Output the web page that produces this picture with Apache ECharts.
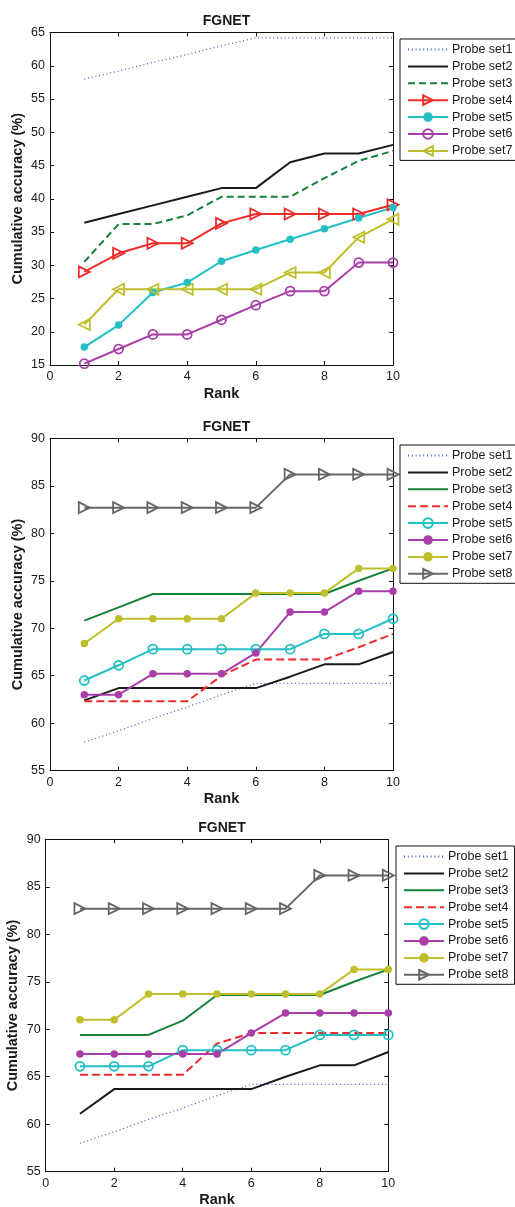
<!DOCTYPE html>
<html>
<head>
<meta charset="utf-8">
<script src="https://cdn.jsdelivr.net/npm/echarts@6/dist/echarts.min.js"></script>
<style>
html,body{margin:0;padding:0;background:#fff;}
#main{width:515px;height:1207px;}
</style>
</head>
<body>
<div id="main"></div>
<script>
// ---------- DATA ----------
const ranks = [1, 2, 3, 4, 5, 6, 7, 8, 9, 10];
const legendNames1 = ['Probe set1','Probe set2','Probe set3','Probe set4','Probe set5','Probe set6','Probe set7'];
const legendNames2 = ['Probe set1','Probe set2','Probe set3','Probe set4','Probe set5','Probe set6','Probe set7','Probe set8'];
const xTicks = [0, 2, 4, 6, 8, 10];

// Panel 1
const p1_set1 = [58.0, 59.2, 60.5, 61.7, 63.0, 64.2, 64.2, 64.2, 64.2, 64.2];
const p1_set2 = [36.4, 37.7, 39.0, 40.3, 41.6, 41.6, 45.5, 46.8, 46.8, 48.1];
const p1_set3 = [30.5, 36.2, 36.2, 37.5, 40.3, 40.3, 40.3, 43.1, 45.7, 47.2];
const p1_set4 = [29.0, 31.8, 33.3, 33.3, 36.3, 37.7, 37.7, 37.7, 37.7, 39.1];
const p1_set5 = [17.7, 21.0, 25.9, 27.4, 30.6, 32.3, 33.9, 35.5, 37.1, 38.7];
const p1_set6 = [15.2, 17.4, 19.6, 19.6, 21.8, 24.0, 26.1, 26.1, 30.4, 30.4];
const p1_set7 = [21.1, 26.4, 26.4, 26.4, 26.4, 26.4, 28.9, 28.9, 34.2, 36.9];

// Panel 2
const p2_set1 = [58.0, 59.2, 60.5, 61.7, 63.0, 64.2, 64.2, 64.2, 64.2, 64.2];
const p2_set2 = [62.4, 63.7, 63.7, 63.7, 63.7, 63.7, 64.9, 66.2, 66.2, 67.5];
const p2_set3 = [70.8, 72.2, 73.6, 73.6, 73.6, 73.6, 73.6, 73.6, 75.0, 76.3];
const p2_set4 = [62.3, 62.3, 62.3, 62.3, 65.0, 66.7, 66.7, 66.7, 68.0, 69.4];
const p2_set5 = [64.5, 66.1, 67.8, 67.8, 67.8, 67.8, 67.8, 69.4, 69.4, 71.0];
const p2_set6 = [63.0, 63.0, 65.2, 65.2, 65.2, 67.4, 71.7, 71.7, 73.9, 73.9];
const p2_set7 = [68.4, 71.0, 71.0, 71.0, 71.0, 73.7, 73.7, 73.7, 76.3, 76.3];
const p2_set8 = [82.7, 82.7, 82.7, 82.7, 82.7, 82.7, 86.2, 86.2, 86.2, 86.2];

// Panel 3
const p3_set1 = [58.0, 59.2, 60.5, 61.7, 63.0, 64.2, 64.2, 64.2, 64.2, 64.2];
const p3_set2 = [61.1, 63.7, 63.7, 63.7, 63.7, 63.7, 65.0, 66.2, 66.2, 67.6];
const p3_set3 = [69.4, 69.4, 69.4, 70.9, 73.6, 73.6, 73.6, 73.6, 75.0, 76.3];
const p3_set4 = [65.2, 65.2, 65.2, 65.2, 68.5, 69.6, 69.6, 69.6, 69.6, 69.6];
const p3_set5 = [66.1, 66.1, 66.1, 67.8, 67.8, 67.8, 67.8, 69.4, 69.4, 69.4];
const p3_set6 = [67.4, 67.4, 67.4, 67.4, 67.4, 69.6, 71.7, 71.7, 71.7, 71.7];
const p3_set7 = [71.0, 71.0, 73.7, 73.7, 73.7, 73.7, 73.7, 73.7, 76.3, 76.3];
const p3_set8 = [82.7, 82.7, 82.7, 82.7, 82.7, 82.7, 82.7, 86.2, 86.2, 86.2];

// ---------- STYLE ----------
const FONT = 'Liberation Sans, Arial, sans-serif';
const C = {
  blue: '#4d63c9', black: '#1a1a1a', green: '#17803a', red: '#ee2b2b',
  cyan: '#22bfc4', magenta: '#a83ea8', olive: '#bfbf2e', gray: '#666666'
};
const TRI_R = 'path://M0,0 L10,5 L0,10 Z';
const TRI_L = 'path://M10,0 L0,5 L10,10 Z';

function pairs(arr) { return ranks.map((r, i) => [r, arr[i]]); }

const panels = [
  { left: 50, top: 32.5, width: 343, height: 332.5, ymin: 15, ymax: 65, titleTop: 9,
    legend: { left: 400, top: 39, names: legendNames1 } },
  { left: 50, top: 438.3, width: 343, height: 332.4, ymin: 55, ymax: 90, titleTop: 415,
    legend: { left: 400, top: 445, names: legendNames2 } },
  { left: 45.7, top: 839.3, width: 342.6, height: 332.4, ymin: 55, ymax: 90, titleTop: 816,
    legend: { left: 396, top: 846, names: legendNames2 } }
];

function spec(data, color, lineType, marker, hollow, size, width) {
  return { data, color, lineType, marker, hollow, size, width };
}
const dotted = [1, 2.8];
const panelSeries = [
  [
    spec(p1_set1, C.blue, dotted, 'none', false, 0, 1.3),
    spec(p1_set2, C.black, 'solid', 'none', false, 0, 2),
    spec(p1_set3, C.green, [7, 4], 'none', false, 0, 2),
    spec(p1_set4, C.red, 'solid', TRI_R, true, 11, 2),
    spec(p1_set5, C.cyan, 'solid', 'circle', false, 7.5, 2),
    spec(p1_set6, C.magenta, 'solid', 'circle', true, 9, 2),
    spec(p1_set7, C.olive, 'solid', TRI_L, true, 11, 2)
  ],
  [
    spec(p2_set1, C.blue, dotted, 'none', false, 0, 1.3),
    spec(p2_set2, C.black, 'solid', 'none', false, 0, 2),
    spec(p2_set3, C.green, 'solid', 'none', false, 0, 2),
    spec(p2_set4, C.red, [8, 4], 'none', false, 0, 2),
    spec(p2_set5, C.cyan, 'solid', 'circle', true, 9, 2),
    spec(p2_set6, C.magenta, 'solid', 'circle', false, 7.5, 2),
    spec(p2_set7, C.olive, 'solid', 'circle', false, 7.5, 2),
    spec(p2_set8, C.gray, 'solid', TRI_R, true, 11, 2)
  ],
  [
    spec(p3_set1, C.blue, dotted, 'none', false, 0, 1.3),
    spec(p3_set2, C.black, 'solid', 'none', false, 0, 2),
    spec(p3_set3, C.green, 'solid', 'none', false, 0, 2),
    spec(p3_set4, C.red, [8, 4], 'none', false, 0, 2),
    spec(p3_set5, C.cyan, 'solid', 'circle', true, 9, 2),
    spec(p3_set6, C.magenta, 'solid', 'circle', false, 7.5, 2),
    spec(p3_set7, C.olive, 'solid', 'circle', false, 7.5, 2),
    spec(p3_set8, C.gray, 'solid', TRI_R, true, 11, 2)
  ]
];

const grid = [], xAxis = [], yAxis = [], series = [], title = [], legend = [];
const axisLine = { show: true, onZero: false, lineStyle: { color: '#111', width: 1 } };
const tick = { show: true, inside: true, length: 4, lineStyle: { color: '#111', width: 1 } };
const lbl = { color: '#1a1a1a', fontSize: 12.5, fontFamily: FONT };
const nameStyle = { fontSize: 14.5, fontWeight: 'bold', color: '#1a1a1a', fontFamily: FONT };

panels.forEach((p, gi) => {
  grid.push({ left: p.left, top: p.top, width: p.width, height: p.height, show: false,
    containLabel: false, outerBoundsMode: 'none' });
  title.push({ text: 'FGNET', left: p.left + p.width / 2, top: p.titleTop, textAlign: 'center',
    textStyle: { fontSize: 14, fontWeight: 'bold', color: '#1a1a1a', fontFamily: FONT } });
  xAxis.push({ type: 'value', gridIndex: gi, position: 'bottom', min: 0, max: 10, interval: 2,
    axisLine, axisTick: tick, splitLine: { show: false },
    axisLabel: Object.assign({ margin: 5 }, lbl),
    name: 'Rank', nameLocation: 'middle', nameGap: 21, nameMoveOverlap: false,
    nameTextStyle: nameStyle });
  xAxis.push({ type: 'value', gridIndex: gi, position: 'top', min: 0, max: 10, interval: 2,
    axisLine, axisTick: tick, splitLine: { show: false }, axisLabel: { show: false } });
  yAxis.push({ type: 'value', gridIndex: gi, position: 'left', min: p.ymin, max: p.ymax, interval: 5,
    axisLine, axisTick: tick, splitLine: { show: false },
    axisLabel: Object.assign({ margin: 5 }, lbl),
    name: 'Cumulative accuracy (%)', nameLocation: 'middle', nameGap: 25, nameMoveOverlap: false,
    nameTextStyle: nameStyle });
  yAxis.push({ type: 'value', gridIndex: gi, position: 'right', min: p.ymin, max: p.ymax, interval: 5,
    axisLine, axisTick: tick, splitLine: { show: false }, axisLabel: { show: false } });

  const legendData = [];
  panelSeries[gi].forEach((s, si) => {
    const name = 'P' + gi + '|' + p.legend.names[si];
    const hasMarker = s.marker !== 'none';
    series.push({
      type: 'line', name, xAxisIndex: gi * 2, yAxisIndex: gi * 2,
      data: pairs(s.data),
      symbol: hasMarker ? s.marker : 'none',
      symbolSize: s.size,
      showSymbol: hasMarker,
      clip: false,
      animation: false,
      lineStyle: { color: s.color, width: s.width, type: s.lineType },
      itemStyle: s.hollow
        ? { color: 'rgba(255,255,255,0)', borderColor: s.color, borderWidth: 1.8 }
        : { color: s.color, borderColor: s.color, borderWidth: 0 },
      emphasis: { disabled: true }
    });
    const item = { name };
    if (!hasMarker) item.itemStyle = { opacity: 0 };
    legendData.push(item);
  });
  legend.push({
    orient: 'vertical', left: p.legend.left, top: p.legend.top,
    data: legendData, selectedMode: false,
    formatter: (n) => n.split('|')[1],
    itemWidth: 40, itemHeight: 12, itemGap: 3.9,
    padding: [4, 6, 3, 7],
    borderColor: '#111', borderWidth: 1, backgroundColor: '#fff',
    textStyle: { fontSize: 12.5, color: '#1a1a1a', fontFamily: FONT, padding: [0, 0, 0, -1] }
  });
});

const chart = echarts.init(document.getElementById('main'), null, { renderer: 'canvas' });
chart.setOption({ animation: false, backgroundColor: '#fff', title, grid, xAxis, yAxis, series, legend });
</script>
</body>
</html>
